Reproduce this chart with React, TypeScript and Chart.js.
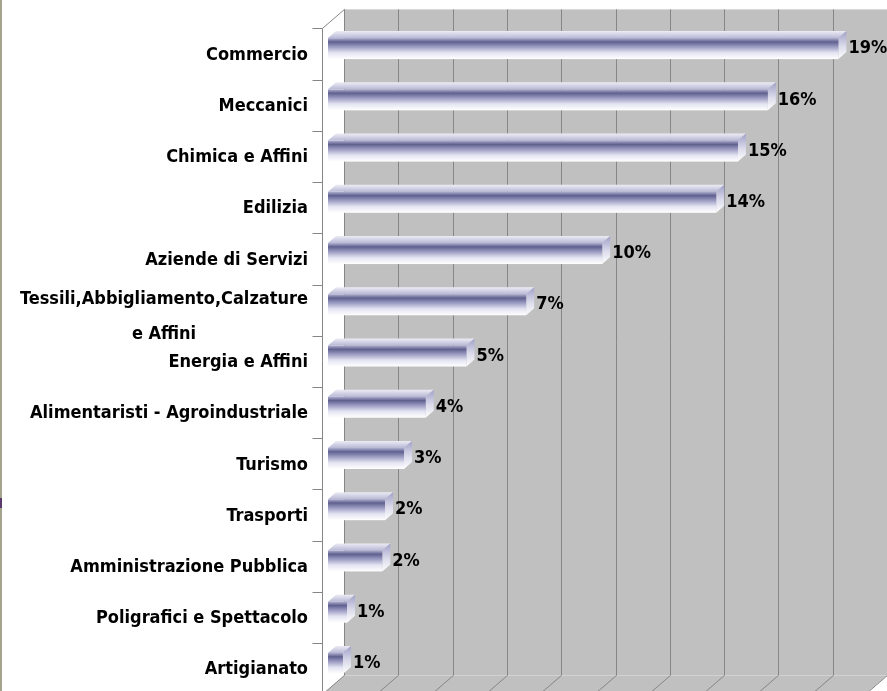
import React, { useEffect, useRef } from "react";
import { Chart, registerables } from "chart.js";

Chart.register(...registerables);

const categories: (string | string[])[] = [
  "Commercio",
  "Meccanici",
  "Chimica e Affini",
  "Edilizia",
  "Aziende di Servizi",
  ["Tessili,Abbigliamento,Calzature", "e Affini"],
  "Energia e Affini",
  "Alimentaristi - Agroindustriale",
  "Turismo",
  "Trasporti",
  "Amministrazione Pubblica",
  "Poligrafici e Spettacolo",
  "Artigianato",
];
const values = [18.8, 16.2, 15.1, 14.3, 10.1, 7.3, 5.1, 3.6, 2.8, 2.1, 2.0, 0.7, 0.55];
const valueLabels = ["19%", "16%", "15%", "14%", "10%", "7%", "5%", "4%", "3%", "2%", "2%", "1%", "1%"];
const axisMin = 0;
const axisMax = 20;
const axisStep = 2;

const FONT = 'bold 18px "Liberation Sans Narrow", "Arial Narrow", "DejaVu Sans Condensed", sans-serif';
// projection offsets relative to bar plane
const DX = 16, DY = -13.6; // to back wall
const FX = -6, FY = 5.4; // to front plane
const BDX = 8, BDY = -7; // bar depth

const wallPlugin = {
  id: "wall3d",
  beforeDatasetsDraw(chart: any) {
    const { ctx, chartArea } = chart;
    const { left, right, top, bottom } = chartArea;
    const xs = chart.scales.x;
    const ys = chart.scales.y;
    ctx.save();
    // back wall
    ctx.fillStyle = "#c0c0c0";
    ctx.fillRect(left + DX, top + DY, right - left, bottom - top);
    // floor
    ctx.beginPath();
    ctx.moveTo(left + DX, bottom + DY);
    ctx.lineTo(right + DX, bottom + DY);
    ctx.lineTo(right + FX, bottom + FY);
    ctx.lineTo(left + FX, bottom + FY);
    ctx.closePath();
    ctx.fill();
    // side wall
    ctx.fillStyle = "#ffffff";
    ctx.beginPath();
    ctx.moveTo(left + FX, top + FY);
    ctx.lineTo(left + DX, top + DY);
    ctx.lineTo(left + DX, bottom + DY);
    ctx.lineTo(left + FX, bottom + FY);
    ctx.closePath();
    ctx.fill();
    // grid lines
    ctx.strokeStyle = "#868686";
    ctx.lineWidth = 1;
    for (let v = axisMin; v <= axisMax + 1e-9; v += axisStep) {
      const x = Math.round(xs.getPixelForValue(v)) + 0.5;
      ctx.beginPath();
      ctx.moveTo(x + DX, top + DY);
      ctx.lineTo(x + DX, bottom + DY);
      ctx.lineTo(x + FX, bottom + FY);
      ctx.stroke();
    }
    // side wall edges
    const fl = Math.round(left + FX) + 0.5;
    ctx.beginPath();
    ctx.moveTo(left + DX + 0.5, top + DY);
    ctx.lineTo(fl, top + FY);
    ctx.lineTo(fl, bottom + FY);
    ctx.stroke();
    // category ticks
    const band = (bottom - top) / categories.length;
    for (let i = 0; i <= categories.length; i++) {
      const y = Math.round(ys.getPixelForValue(0) - band / 2 + i * band + FY) + 0.5;
      ctx.beginPath();
      ctx.moveTo(fl - 10, y);
      ctx.lineTo(fl, y);
      ctx.stroke();
    }
    ctx.restore();
  },
  afterDatasetsDraw(chart: any) {
    const { ctx } = chart;
    const meta = chart.getDatasetMeta(0);
    ctx.save();
    meta.data.forEach((bar: any, i: number) => {
      const x0 = bar.base;
      const x1 = bar.x;
      const yT = bar.y - bar.height / 2;
      const yB = bar.y + bar.height / 2;
      // top face
      let g = ctx.createLinearGradient(0, yT + BDY, 0, yT);
      g.addColorStop(0, "#ececf5");
      g.addColorStop(1, "#b8b8d6");
      ctx.fillStyle = g;
      ctx.beginPath();
      ctx.moveTo(x0, yT);
      ctx.lineTo(x0 + BDX, yT + BDY);
      ctx.lineTo(x1 + BDX, yT + BDY);
      ctx.lineTo(x1, yT);
      ctx.closePath();
      ctx.fill();
      // side face
      g = ctx.createLinearGradient(0, yT + BDY, 0, yB);
      g.addColorStop(0, "#a0a0c8");
      g.addColorStop(0.55, "#dcdcec");
      g.addColorStop(1, "#ffffff");
      ctx.fillStyle = g;
      ctx.beginPath();
      ctx.moveTo(x1, yT);
      ctx.lineTo(x1 + BDX, yT + BDY);
      ctx.lineTo(x1 + BDX, yB + BDY);
      ctx.lineTo(x1, yB);
      ctx.closePath();
      ctx.fill();
      // front face
      g = ctx.createLinearGradient(0, yT, 0, yB);
      g.addColorStop(0, "#b0b0d0");
      g.addColorStop(0.18, "#60608f");
      g.addColorStop(0.4, "#9898c0");
      g.addColorStop(0.7, "#e4e4f2");
      g.addColorStop(1, "#ffffff");
      ctx.fillStyle = g;
      ctx.fillRect(x0, yT, x1 - x0, yB - yT);
      // value label
      ctx.fillStyle = "#000000";
      ctx.font = FONT;
      ctx.textAlign = "left";
      ctx.textBaseline = "middle";
      ctx.fillText(valueLabels[i], x1 + 10, bar.y);
    });
    // category labels
    const ys = chart.scales.y;
    categories.forEach((c, i) => {
      const cy = ys.getPixelForValue(i) + FY + 1;
      ctx.textBaseline = "middle";
      if (Array.isArray(c)) {
        const w = ctx.measureText(c[0]).width;
        const cx = 308 - w / 2;
        ctx.textAlign = "center";
        ctx.fillText(c[0], cx, cy - 12);
        ctx.fillText(c[1], cx, cy + 23);
      } else {
        ctx.textAlign = "right";
        ctx.fillText(c, 308, cy);
      }
    });
    ctx.restore();
  },
  afterDraw(chart: any) {
    const { ctx } = chart;
    ctx.save();
    ctx.fillStyle = "#a4a48c";
    ctx.fillRect(0, 0, 2, chart.height);
    ctx.fillStyle = "#5b3b6b";
    ctx.fillRect(0, 498, 2, 10);
    ctx.restore();
  },
};

export default function App() {
  const ref = useRef<HTMLCanvasElement | null>(null);
  useEffect(() => {
    if (!ref.current) return;
    const chart = new Chart(ref.current, {
      type: "bar",
      data: {
        labels: categories as any,
        datasets: [
          {
            data: values,
            backgroundColor: "rgba(0,0,0,0)",
            borderWidth: 0,
            barPercentage: 0.41,
            categoryPercentage: 1,
          },
        ],
      },
      options: {
        indexAxis: "y",
        animation: false,
        responsive: false,
        devicePixelRatio: 1,
        layout: { padding: { left: 328, right: 16, top: 23, bottom: 2 } },
        scales: {
          x: { type: "linear", min: axisMin, max: axisMax, display: false },
          y: { type: "category", display: false },
        },
        plugins: { legend: { display: false }, tooltip: { enabled: false } },
      },
      plugins: [wallPlugin],
    });
    return () => chart.destroy();
  }, []);
  return (
    <div style={{ position: "fixed", left: 0, top: 0, width: 887, height: 691, background: "#fff" }}>
      <canvas ref={ref} width={887} height={691} style={{ display: "block" }} />
    </div>
  );
}
